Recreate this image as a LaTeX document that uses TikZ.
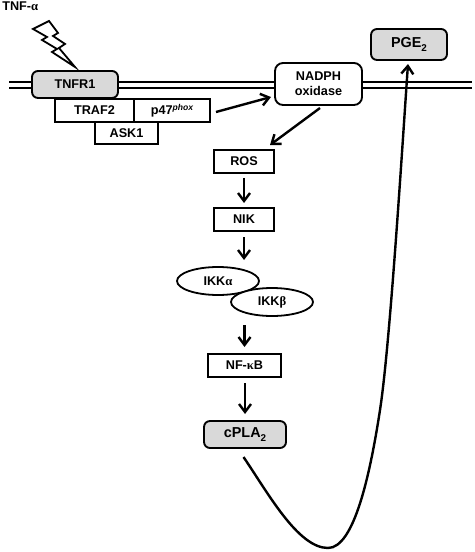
\documentclass[tikz,border=0pt]{standalone}
\usepackage{fontspec}
\setmainfont{Liberation Sans}
\newfontfamily\grk{Liberation Serif}
\usetikzlibrary{arrows.meta,calc,shapes.geometric}
\newcommand{\gr}[1]{{\grk\bfseries #1}}
\newcommand{\sbtwo}{\raisebox{-0.3em}{\fontsize{7.4}{8}\selectfont 2}}
\definecolor{boxgray}{HTML}{D9D9D9}
\tikzset{
 x=0.75pt,y=-0.75pt,
 every node/.style={font=\fontsize{9.5}{11}\selectfont\bfseries,align=center,inner sep=0pt},
 big/.style={font=\fontsize{10.8}{12}\selectfont\bfseries},
 sq/.style={draw,line width=1.35pt,fill=white},
 rnd/.style={draw,line width=1.4pt,rounded corners=4.5pt,fill=white},
 gry/.style={fill=boxgray},
 ell/.style={draw,line width=1.35pt,fill=white,ellipse},
 mem/.style={line width=1.5pt},
 arr/.style={line width=1.8pt,-{Straight Barb[length=6pt,width=9pt,line width=1.8pt]}},
}
\begin{document}
\begin{tikzpicture}
\useasboundingbox (0,0) rectangle (474,552);
\coordinate (ml) at (9,82);
\coordinate (mr) at (472,82);
\coordinate (nl) at (9,88);
\coordinate (nr) at (472,88);
\draw[mem] (ml) -- (mr);
\draw[mem] (nl) -- (nr);
\node[anchor=west] (tnfa) at (2,6.5) {TNF-\gr{α}};
\draw[line width=1.35pt,fill=white,line join=miter] (33,29) -- (49,21) -- (58,33) -- (53,36) -- (65,44) -- (59,48) -- (75,67) -- (52,52) -- (57,49) -- (42,40) -- (47,37) -- cycle;
\node[sq,minimum width=79*0.75pt,minimum height=23*0.75pt] (traf) at (94.5,110.5) {TRAF2};
\node[sq,minimum width=76*0.75pt,minimum height=23*0.75pt] (p47) at (172,110.5) {p47\raisebox{0.35em}{\fontsize{6.4}{7}\selectfont\itshape phox}};
\node[sq,minimum width=63*0.75pt,minimum height=22*0.75pt] (ask) at (126.5,133) {ASK1};
\node[rnd,gry,minimum width=86*0.75pt,minimum height=27*0.75pt] (tnfr) at (75,84.5) {TNFR1};
\node[rnd,minimum width=87*0.75pt,minimum height=42*0.75pt,rounded corners=6pt] (nadph) at (318.5,84) {NADPH\\oxidase};
\node[rnd,gry,big,minimum width=76*0.75pt,minimum height=31*0.75pt] (pge) at (409,44.5) {PGE\sbtwo};
\node[sq,minimum width=60*0.75pt,minimum height=23*0.75pt] (ros) at (244,161.5) {ROS};
\node[sq,minimum width=60*0.75pt,minimum height=23*0.75pt] (nik) at (244,219.5) {NIK};
\node[ell,minimum width=82*0.75pt,minimum height=28*0.75pt] (ikka) at (218,281) {IKK\gr{α}};
\node[ell,minimum width=82*0.75pt,minimum height=28*0.75pt] (ikkb) at (272,302) {IKK\gr{β}};
\node[sq,minimum width=73*0.75pt,minimum height=23*0.75pt] (nf) at (244.5,365.5) {NF-\gr{κ}B};
\node[rnd,gry,big,minimum width=82*0.75pt,minimum height=27*0.75pt] (cpla) at (245,434.5) {cPLA\sbtwo};
\coordinate (ikkin) at (244,237);
\coordinate (ikkinend) at (244,260);
\coordinate (ikkout) at (244.5,325);
\coordinate (ikkoutend) at (244.5,347);
\coordinate (pstart) at (216,112);
\coordinate (pend) at (271,97);
\coordinate (nstart) at (320,108);
\coordinate (nend) at (270,145);
\coordinate (cs) at (243.5,457);
\coordinate (ptip) at (408,64);
\draw[arr] (pstart) -- (pend);
\draw[arr] (nstart) -- (nend);
\draw[arr] (244,178) -- (244,203);
\draw[arr] (ikkin) -- (ikkinend);
\draw[arr] (ikkout) -- (ikkoutend);
\draw[arr] (245,383) -- (245,414);
\draw[arr] (cs) .. controls (268,493) and (298,548) .. (328,548) .. controls (354,548) and (370,475) .. (380,410) .. controls (390,345) and (402,150) .. (ptip);
\end{tikzpicture}
\end{document}
